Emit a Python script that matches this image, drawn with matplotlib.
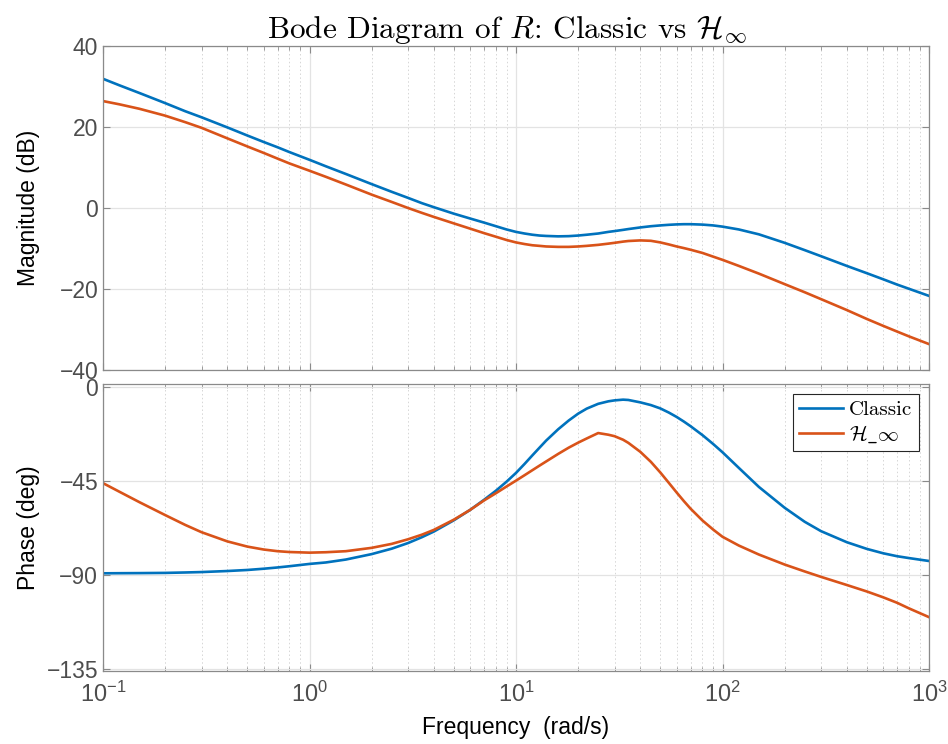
import numpy as np
import matplotlib
matplotlib.use("Agg")
import matplotlib.pyplot as plt
from matplotlib.ticker import LogLocator, FixedLocator, NullFormatter, FuncFormatter
from matplotlib.font_manager import FontProperties

# Frequency grid (rad/s)
freq = [0.1, 0.12, 0.15, 0.2, 0.25, 0.3, 0.4, 0.5, 0.6, 0.7, 0.8, 1, 1.2, 1.5,
        2, 2.5, 3, 3.5, 4, 5, 6, 7, 8, 9, 10, 11, 12, 13, 14, 16, 18, 20, 22,
        25, 28, 30, 33, 35, 40, 45, 50, 55, 60, 65, 70, 80, 90, 100, 120, 150,
        200, 250, 300, 400, 500, 600, 700, 800, 1000]

# Magnitude (dB)
mag_classic = [31.9, 30.3, 28.4, 25.9, 23.9, 22.4, 19.9, 17.9, 16.3, 15.0,
               13.8, 11.9, 10.3, 8.4, 5.9, 4.0, 2.5, 1.2, 0.2, -1.4, -2.6,
               -3.6, -4.5, -5.3, -5.9, -6.3, -6.6, -6.8, -6.9, -7.0, -6.95,
               -6.8, -6.6, -6.3, -5.9, -5.7, -5.4, -5.2, -4.8, -4.5, -4.3,
               -4.15, -4.05, -4.0, -4.0, -4.1, -4.3, -4.6, -5.3, -6.5, -8.6,
               -10.4, -11.9, -14.3, -16.1, -17.6, -18.9, -19.95, -21.7]
mag_hinf = [26.4, 25.6, 24.5, 22.8, 21.2, 19.8, 17.2, 15.2, 13.6, 12.2, 11.0,
            9.2, 7.7, 5.8, 3.3, 1.5, 0.0, -1.2, -2.2, -3.8, -5.1, -6.2, -7.1,
            -7.9, -8.5, -8.9, -9.2, -9.35, -9.5, -9.6, -9.6, -9.5, -9.35,
            -9.1, -8.8, -8.6, -8.3, -8.15, -8.0, -8.1, -8.5, -9.0, -9.5, -9.9,
            -10.3, -11.1, -12.0, -12.8, -14.3, -16.2, -18.8, -20.8, -22.5,
            -25.2, -27.4, -29.1, -30.5, -31.7, -33.6]

# Phase (deg)
ph_classic = [-89.2, -89.15, -89.1, -89.0, -88.8, -88.6, -88.1, -87.6, -87.0,
              -86.4, -85.8, -84.7, -84.0, -82.6, -80.0, -77.4, -74.7, -71.9,
              -69.2, -63.8, -58.8, -54.0, -49.6, -45.3, -41.1, -36.8, -32.7,
              -29.0, -25.6, -20.2, -16.0, -12.7, -10.3, -8.0, -6.8, -6.35,
              -6.0, -6.15, -7.3, -8.6, -10.2, -12.2, -14.3, -16.5, -18.7,
              -23.0, -27.2, -31.2, -38.7, -47.8, -57.8, -64.5, -69.0, -74.3,
              -77.5, -79.6, -81.0, -81.9, -83.3]
ph_hinf = [-46.0, -50.1, -55.1, -61.3, -66.0, -69.5, -73.9, -76.4, -77.8,
           -78.6, -79.0, -79.3, -79.1, -78.6, -77.0, -75.1, -72.9, -70.7,
           -68.4, -63.5, -58.8, -54.3, -50.8, -47.6, -44.8, -42.2, -39.8,
           -37.6, -35.6, -32.0, -29.0, -26.6, -24.6, -22.0, -22.8, -23.5,
           -25.2, -26.7, -31.0, -35.8, -40.9, -45.9, -50.5, -54.6, -58.2,
           -63.9, -68.2, -71.7, -75.9, -80.2, -85.0, -88.3, -90.9, -94.8,
           -97.9, -100.7, -103.3, -106.0, -110.2]

series_labels = ['Classic', r'$\mathcal{H}\_\infty$']
title_text = r'Bode Diagram of $R$: Classic vs $\mathcal{H}_\infty$'

C_BLUE = '#0072BD'
C_ORANGE = '#D95319'
TICK_COL = '#4d4d4d'
SPINE_COL = '#8a8a8a'

plt.rcParams['font.family'] = ['Liberation Sans', 'DejaVu Sans']
plt.rcParams['mathtext.fontset'] = 'custom'
plt.rcParams['mathtext.rm'] = 'Liberation Sans'
plt.rcParams['mathtext.it'] = 'Liberation Sans:italic'
plt.rcParams['mathtext.bf'] = 'Liberation Sans:bold'

fig = plt.figure(figsize=(9.48, 7.44), dpi=100)
W, H = 948, 744
def rect(x0, y0, x1, y1):
    return [x0 / W, 1 - y1 / H, (x1 - x0) / W, (y1 - y0) / H]

ax1 = fig.add_axes(rect(103, 46, 929, 370))
ax2 = fig.add_axes(rect(103, 384, 929, 671))

lw = 1.9
ax1.semilogx(freq, mag_classic, color=C_BLUE, lw=lw)
ax1.semilogx(freq, mag_hinf, color=C_ORANGE, lw=lw)
ax2.semilogx(freq, ph_classic, color=C_BLUE, lw=lw, label=series_labels[0])
ax2.semilogx(freq, ph_hinf, color=C_ORANGE, lw=lw, label=series_labels[1])

def style(ax):
    ax.set_xlim(0.1, 1000)
    ax.xaxis.set_major_locator(LogLocator(base=10, numticks=10))
    ax.xaxis.set_minor_locator(LogLocator(base=10, subs=np.arange(2, 10), numticks=100))
    ax.grid(True, which='major', color='#e3e3e3', lw=0.9, ls='-')
    ax.grid(True, which='minor', axis='x', color='#d6d6d6', lw=0.7, ls=(0, (1.5, 2.5)))
    ax.set_axisbelow(True)
    ax.tick_params(which='both', direction='in', top=True, right=True,
                   colors=SPINE_COL, labelcolor=TICK_COL, labelsize=16.5)
    ax.tick_params(which='major', length=5, width=0.8)
    ax.tick_params(which='minor', length=3, width=0.6)
    for s in ax.spines.values():
        s.set_color(SPINE_COL)
        s.set_linewidth(0.9)

style(ax1)
style(ax2)

ax1.set_ylim(-40, 40)
ax1.yaxis.set_major_locator(FixedLocator([-40, -20, 0, 20, 40]))
ax1.xaxis.set_major_formatter(NullFormatter())
ax1.set_ylabel('Magnitude (dB)', fontsize=16.5, color='black')

ax2.set_ylim(-136, 1.5)
ax2.yaxis.set_major_locator(FixedLocator([-135, -90, -45, 0]))
ax2.set_ylabel('Phase (deg)', fontsize=16.5, color='black')
ax2.set_xlabel('Frequency  (rad/s)', fontsize=16.5, color='black', labelpad=6)
ax2.xaxis.set_major_formatter(FuncFormatter(
    lambda v, p: r'$10^{%d}$' % int(round(np.log10(v)))))
ax2.tick_params(axis='x', which='major', labelsize=17, pad=8)

ax1.yaxis.set_label_coords(-0.076, 0.5)
ax2.yaxis.set_label_coords(-0.076, 0.5)

ax1.set_title(title_text, fontsize=22.5, fontfamily='cmr10', math_fontfamily='cm',
              pad=3, x=0.489)

leg = ax2.legend(loc='upper right',
                 prop=FontProperties(family='cmr10', size=15, math_fontfamily='cm'),
                 fancybox=False, framealpha=1, edgecolor='#262626',
                 handlelength=2.1, handletextpad=0.3, borderpad=0.3,
                 labelspacing=0.2, borderaxespad=0.5)
leg.get_frame().set_linewidth(0.8)

fig.savefig('out.png', dpi=100)
